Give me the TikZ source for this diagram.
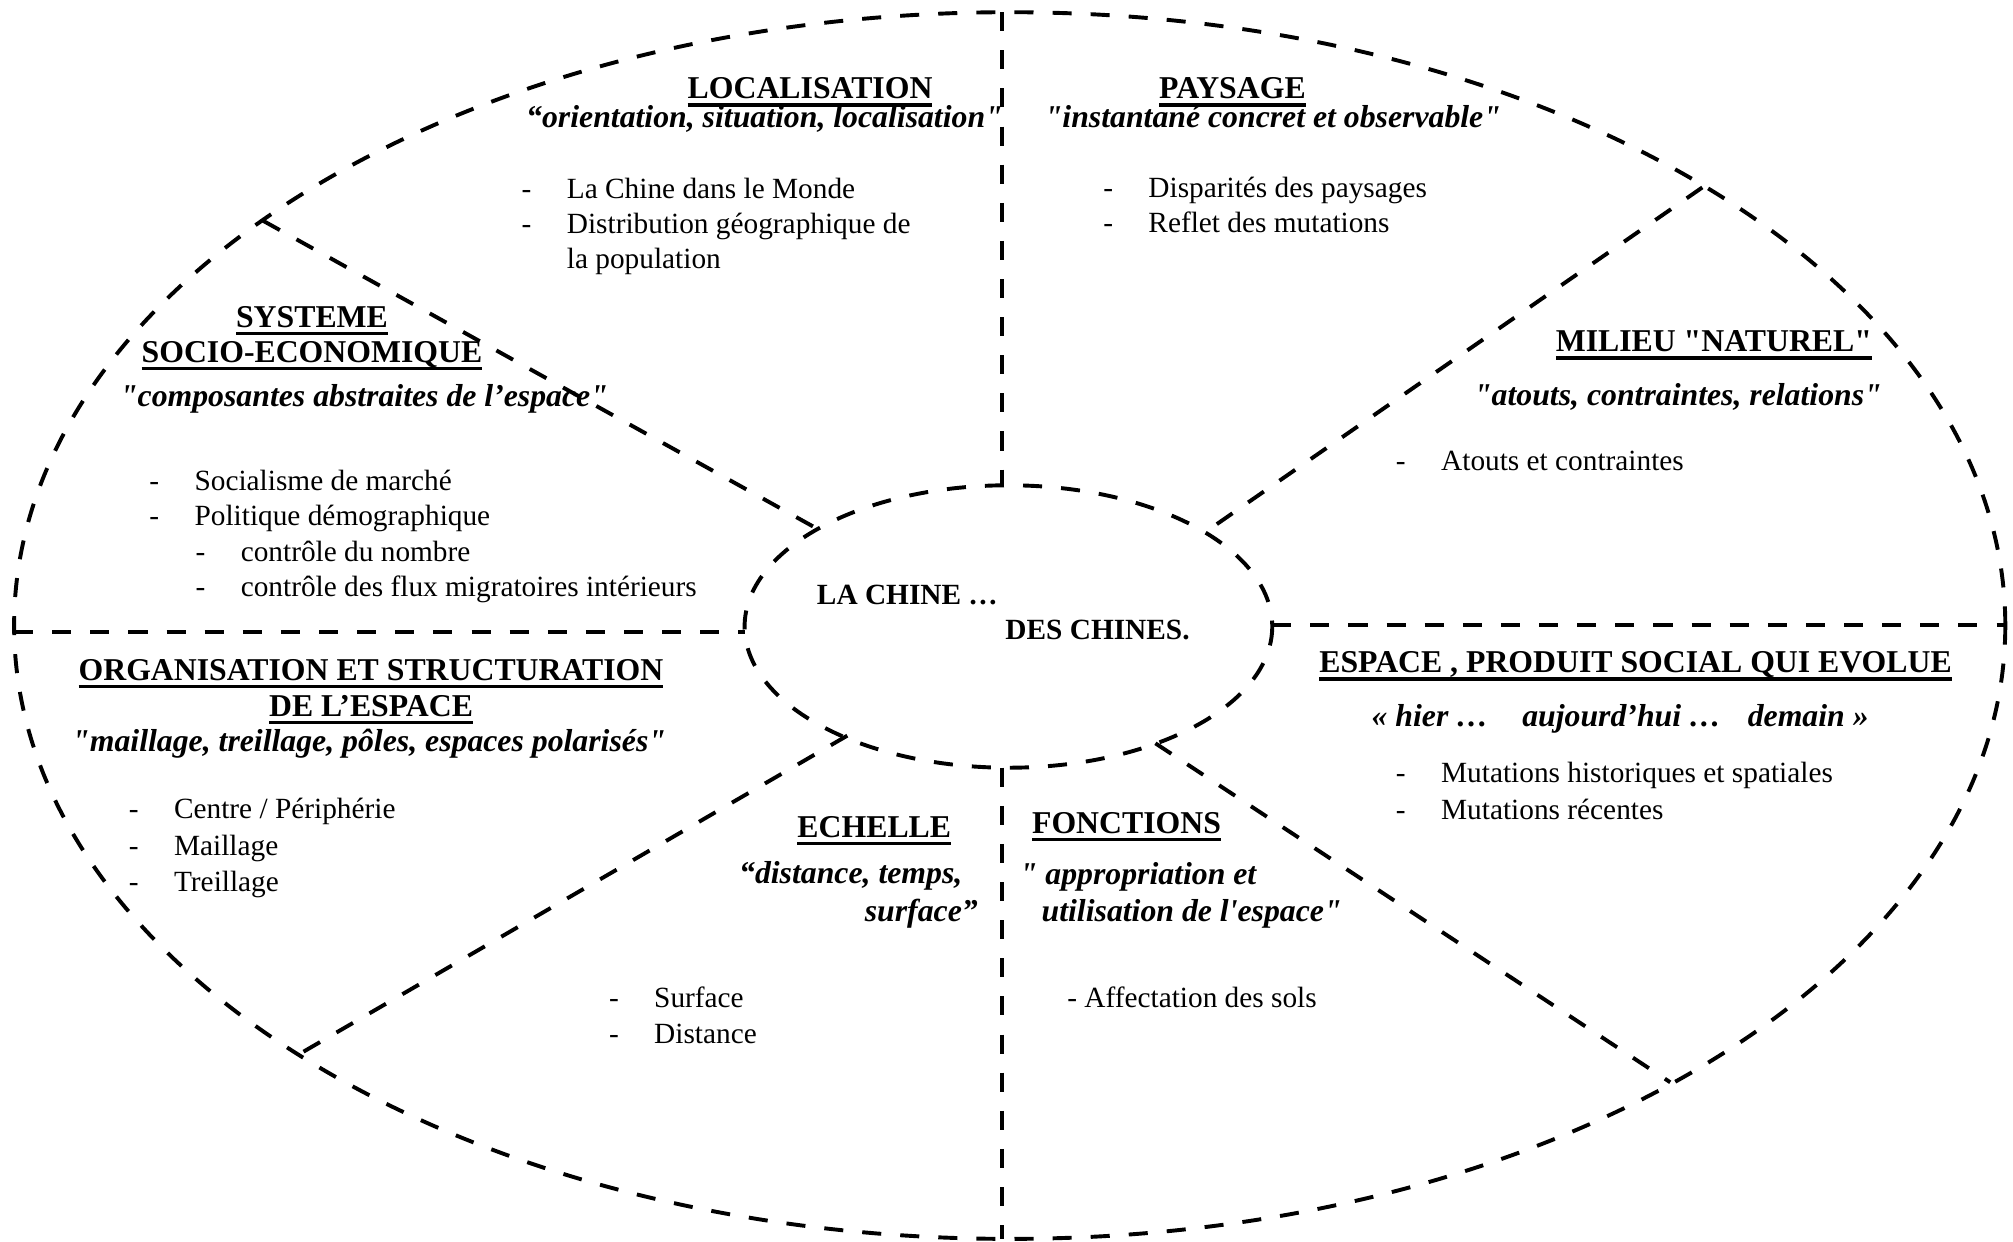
\documentclass[tikz,border=0pt]{standalone}
\usepackage{fontspec}
\setmainfont{Liberation Serif}[Ligatures=TeXOff]
\newsavebox\ulbox
\newcommand\ulin[1]{\sbox\ulbox{#1}\rlap{\rule[-3.2pt]{\wd\ulbox}{1.3pt}}\usebox\ulbox}
\newcommand\itm[1]{\makebox[18.5pt][l]{-}#1}
\newcommand\lst[2][1]{\renewcommand\arraystretch{#1}\begin{tabular}[t]{@{}l@{}}#2\end{tabular}}
\tikzset{
  sep/.style={line width=1.6pt, dash pattern=on 7.8pt off 7.8pt},
  ttl/.style={font=\fontsize{13}{15}\selectfont\bfseries, inner sep=0pt, anchor=base},
  sub/.style={font=\fontsize{13}{15}\selectfont\bfseries\itshape, inner sep=0pt, anchor=base},
  txt/.style={font=\fontsize{12}{14.45}\selectfont, inner sep=0pt, anchor=base west},
  ctr/.style={font=\fontsize{12}{14}\selectfont\bfseries, inner sep=0pt, anchor=base west},
}
\begin{document}
\begin{tikzpicture}[x=0.5254pt, y=-0.5254pt]
\useasboundingbox[fill=white] (0,0) rectangle (1568,967);
% ellipses
\draw[sep] (786.5,487.25) ellipse [x radius=775.5, y radius=477.75];
\draw[sep] (785.5,488) ellipse [x radius=205.5, y radius=110];
% end points of the dividing lines
\coordinate (oT) at (780.5,9.5);   \coordinate (iT) at (780.5,378);
\coordinate (oB) at (780.5,965);   \coordinate (iB) at (780.5,598);
\coordinate (oL) at (11,492);      \coordinate (iL) at (580.5,492);
\coordinate (oR) at (1562,487);    \coordinate (iR) at (991,487);
\coordinate (oUL) at (205,172);    \coordinate (iUL) at (635,411);
\coordinate (oUR) at (1326,146);   \coordinate (iUR) at (941,413);
\coordinate (oLL) at (235,820);    \coordinate (iLL) at (660,573);
\coordinate (oLR) at (1301,843);   \coordinate (iLR) at (900,579);
\draw[sep] (oT) -- (iT);
\draw[sep] (iB) -- (oB);
\draw[sep] (oL) -- (iL);
\draw[sep] (iR) -- (oR);
\draw[sep] (oUL) -- (iUL);
\draw[sep] (oUR) -- (iUR);
\draw[sep] (iLL) -- (oLL);
\draw[sep] (iLR) -- (oLR);
% LOCALISATION
\node[ttl] (loc) at (631,77) {\ulin{LOCALISATION}};
\node[sub] (locs) at (595.5,99.5) {“orientation, situation, localisation"};
\node[txt] (locl) at (406,154.5) {\lst{\itm{La Chine dans le Monde}\\\itm{Distribution géographique de}\\\hspace*{18.5pt}la population}};
% PAYSAGE
\node[ttl] (pay) at (960,77) {\ulin{PAYSAGE}};
\node[sub] (pays) at (991.5,99.5) {"instantané concret et observable"};
\node[txt] (payl) at (859,153.5) {\lst{\itm{Disparités des paysages}\\\itm{Reflet des mutations}}};
% SYSTEME
\node[ttl] (sys1) at (243,255) {\ulin{SYSTEME}};
\node[ttl] (sys2) at (243,282) {\ulin{SOCIO-ECONOMIQUE}};
\node[sub] (syss) at (283.5,317) {"composantes abstraites de l’espace"};
\node[txt] (sysl) at (116,382) {\lst{\itm{Socialisme de marché}\\\itm{Politique démographique}\\\hspace*{18.9pt}\itm{contrôle du nombre}\\\hspace*{18.9pt}\itm{contrôle des flux migratoires intérieurs}}};
% MILIEU
\node[ttl] (mil) at (1335,274) {\ulin{MILIEU "NATUREL"}};
\node[sub] (mils) at (1307,316) {"atouts, contraintes, relations"};
\node[txt] (mill) at (1087,366.5) {\lst{\itm{Atouts et contraintes}}};
% centre
\node[ctr] (c1) at (636,471) {LA CHINE …};
\node[ctr, anchor=base east] (c2) at (927,498) {DES CHINES.};
% ORGANISATION
\node[ttl] (org1) at (289,530) {\ulin{ORGANISATION ET STRUCTURATION}};
\node[ttl] (org2) at (289,558) {\ulin{DE L’ESPACE}};
\node[sub] (orgs) at (287.5,585.5) {"maillage, treillage, pôles, espaces polarisés"};
\node[txt] (orgl) at (100,637.5) {\lst[1.036]{\itm{Centre / Périphérie}\\\itm{Maillage}\\\itm{Treillage}}};
% ECHELLE
\node[ttl] (ech) at (681,652) {\ulin{ECHELLE}};
\node[sub, anchor=base east] (echs1) at (750,688.5) {“distance, temps,};
\node[sub, anchor=base east] (echs2) at (762,718) {surface”};
\node[txt] (echl) at (474,785) {\lst{\itm{Surface}\\\itm{Distance}}};
% FONCTIONS
\node[ttl] (fon) at (877.5,649) {\ulin{FONCTIONS}};
\node[sub, anchor=base west] (fons1) at (794,689) {" appropriation et};
\node[sub, anchor=base west] (fons2) at (811,718) {utilisation de l'espace"};
\node[txt] (fonl) at (831,785) {- Affectation des sols};
% ESPACE
\node[ttl] (esp) at (1274,524) {\ulin{ESPACE , PRODUIT SOCIAL QUI EVOLUE}};
\node[sub] (esps) at (1262,566) {«~hier~…\hspace{14pt}aujourd’hui~…\hspace{11pt}demain~»};
\node[txt] (espl) at (1087,609.5) {\lst[1.054]{\itm{Mutations historiques et spatiales}\\\itm{Mutations récentes}}};
\end{tikzpicture}
\end{document}
